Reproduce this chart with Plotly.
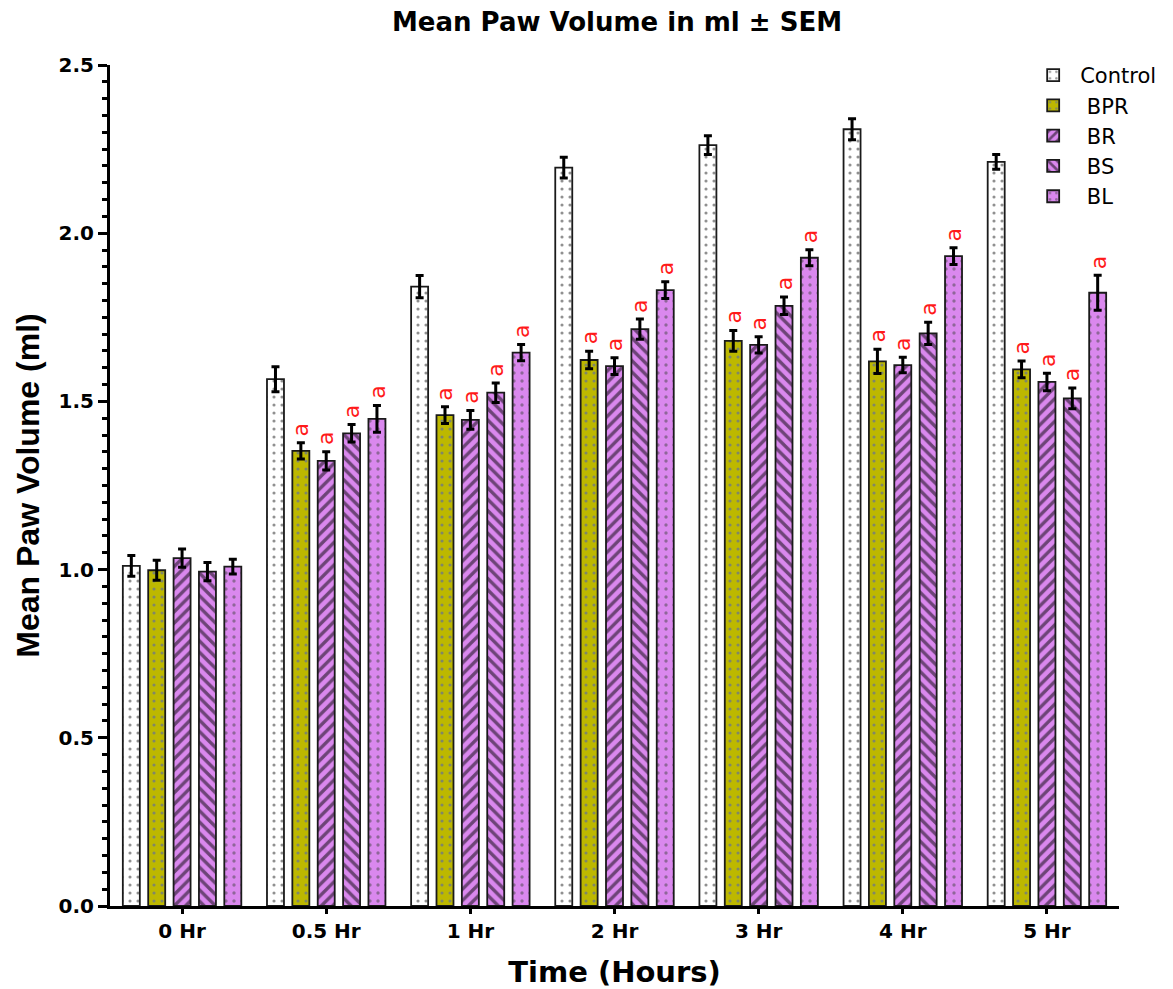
import plotly.graph_objects as go

# Time points and groups
times = ["0 Hr", "0.5 Hr", "1 Hr", "2 Hr", "3 Hr", "4 Hr", "5 Hr"]
groups = ["Control", " BPR", " BR", " BS", " BL"]

# Mean paw volume (ml) per group
control = [1.011, 1.566, 1.841, 2.195, 2.262, 2.309, 2.212]
bpr = [0.998, 1.353, 1.459, 1.623, 1.680, 1.619, 1.595]
br = [1.034, 1.323, 1.445, 1.605, 1.668, 1.608, 1.558]
bs = [0.994, 1.405, 1.526, 1.715, 1.784, 1.702, 1.509]
bl = [1.009, 1.448, 1.645, 1.831, 1.927, 1.932, 1.823]

# SEM per group
control_sem = [0.031, 0.037, 0.033, 0.031, 0.028, 0.031, 0.022]
bpr_sem = [0.030, 0.024, 0.025, 0.026, 0.031, 0.036, 0.025]
br_sem = [0.027, 0.027, 0.028, 0.025, 0.024, 0.023, 0.026]
bs_sem = [0.027, 0.026, 0.029, 0.030, 0.026, 0.033, 0.031]
bl_sem = [0.022, 0.040, 0.024, 0.025, 0.024, 0.025, 0.052]

# Significance marks ("a" vs control), per group and time point
sig_bpr = ["", "a", "a", "a", "a", "a", "a"]
sig_br = ["", "a", "a", "a", "a", "a", "a"]
sig_bs = ["", "a", "a", "a", "a", "a", "a"]
sig_bl = ["", "a", "a", "a", "a", "a", "a"]

values = [control, bpr, br, bs, bl]
sems = [control_sem, bpr_sem, br_sem, bs_sem, bl_sem]
sigs = [None, sig_bpr, sig_br, sig_bs, sig_bl]

OLIVE = "#BDB800"
VIOLET = "#DA88EE"
styles = [
    dict(bg="white", fg="#222222", shape=".", size=8, solidity=0.12),
    dict(bg=OLIVE, fg="#4455CC", shape=".", size=8, solidity=0.12),
    dict(bg=VIOLET, fg="black", shape="/", size=8, solidity=0.42),
    dict(bg=VIOLET, fg="black", shape="\\", size=8, solidity=0.42),
    dict(bg=VIOLET, fg="#444444", shape=".", size=8, solidity=0.14),
]

FONT = "DejaVu Sans, Arial, sans-serif"
ARIAL = "Arial, Liberation Sans, sans-serif"

fig = go.Figure()
for name, vals, err, st in zip(groups, values, sems, styles):
    fig.add_trace(go.Bar(
        name=name, x=times, y=vals,
        marker=dict(
            color=st["bg"],
            line=dict(color="#1a1a1a", width=1.8),
            pattern=dict(shape=st["shape"], fgcolor=st["fg"], bgcolor=st["bg"],
                         size=st["size"], solidity=st["solidity"], fillmode="overlay"),
        ),
        error_y=dict(type="data", array=err, visible=True,
                     color="black", thickness=3, width=4),
    ))

# geometry used to place the significance letters over each bar
plot_left, plot_right = 110, 1124
bargap = 0.12
cat_px = (plot_right - plot_left) / len(times)
slot_px = cat_px * (1 - bargap) / len(groups)

annotations = []
for gi, (vals, err, sig) in enumerate(zip(values, sems, sigs)):
    if sig is None:
        continue
    for ti, t in enumerate(times):
        if not sig[ti]:
            continue
        annotations.append(dict(
            x=t, y=vals[ti] + err[ti], xref="x", yref="y",
            text=sig[ti], showarrow=False, textangle=-90,
            xshift=(gi - (len(groups) - 1) / 2) * slot_px, yshift=13,
            font=dict(family=FONT, size=22, color="#FF1A1A"),
        ))

fig.update_layout(
    width=1173, height=989,
    margin=dict(l=110, r=49, t=65, b=83),
    paper_bgcolor="white", plot_bgcolor="white",
    barmode="group", bargap=bargap, bargroupgap=0.33,
    font=dict(family=FONT, color="black"),
    title=dict(text="<b>Mean Paw Volume in ml ± SEM</b>", x=0.526, xanchor="center",
               y=0.978, yanchor="middle", font=dict(size=26, family=FONT)),
    legend=dict(x=0.908, y=1.012, xanchor="left", yanchor="top",
                font=dict(size=21, family=FONT), bgcolor="rgba(0,0,0,0)",
                itemwidth=44),
    annotations=annotations,
    showlegend=True,
)

fig.update_xaxes(
    automargin=False,
    showline=True, linecolor="black", linewidth=3, mirror=False,
    ticks="outside", ticklen=5, tickwidth=3, tickcolor="black",
    tickfont=dict(size=20, family=FONT, weight="bold"),
    title=dict(text="<b>Time (Hours)</b>", font=dict(size=29, family=FONT), standoff=25),
    range=[-0.5, 6.5], showgrid=False, zeroline=False,
)
fig.update_yaxes(
    automargin=False,
    range=[0, 2.5], dtick=0.5, tickformat=".1f",
    showline=True, linecolor="black", linewidth=3,
    ticks="outside", ticklen=9, tickwidth=3, tickcolor="black",
    minor=dict(dtick=0.05, ticks="outside", ticklen=5, tickwidth=3, tickcolor="black"),
    tickfont=dict(size=20, family=FONT, weight="bold"),
    title=dict(text="<b>Mean Paw Volume (ml)</b>",
               font=dict(size=32, family=ARIAL), standoff=10),
    showgrid=False, zeroline=False,
)

fig.write_html("out.html")
